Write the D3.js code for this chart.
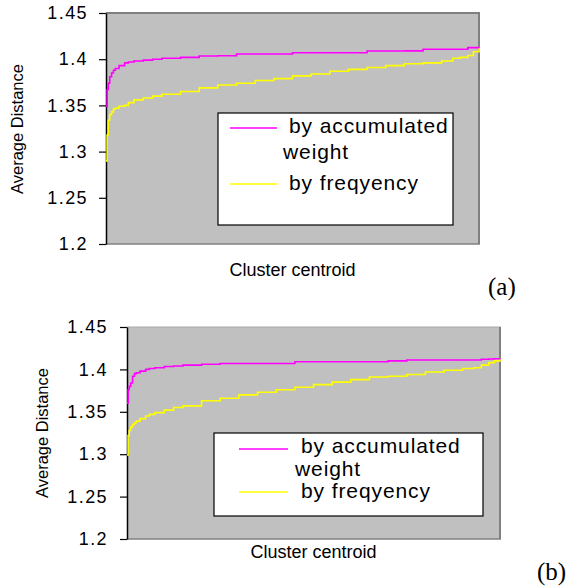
<!DOCTYPE html>
<html>
<head>
<meta charset="utf-8">
<script src="https://cdn.jsdelivr.net/npm/d3@7"></script>
<style>
  body { margin: 0; background: #fff; }
  svg { display: block; }
</style>
</head>
<body>
<div id="chart"></div>
<script>
// Rank of cluster centroid (percent of all centroids, sorted)
const ranks = [0, 0.3, 0.6, 1, 1.5, 2, 2.5, 3.5, 5, 6, 7.5, 10, 12.5, 15, 20, 25, 30, 35, 40, 45, 50, 55, 60, 65, 70, 75, 80, 85, 90, 93, 95, 97, 98.5, 100];

// Panel (a)
const weightA = [1.349, 1.367, 1.374, 1.381, 1.385, 1.388, 1.390, 1.393, 1.396, 1.397, 1.398, 1.399, 1.400, 1.401, 1.402, 1.4035, 1.4037, 1.4056, 1.4056, 1.4056, 1.407, 1.407, 1.407, 1.407, 1.4089, 1.4089, 1.409, 1.4107, 1.4107, 1.4107, 1.4107, 1.4125, 1.4125, 1.4125];
const freqA = [1.290, 1.318, 1.334, 1.340, 1.343, 1.346, 1.347, 1.349, 1.350, 1.353, 1.356, 1.358, 1.360, 1.362, 1.365, 1.369, 1.372, 1.374, 1.377, 1.379, 1.382, 1.384, 1.387, 1.389, 1.391, 1.393, 1.395, 1.396, 1.398, 1.401, 1.402, 1.404, 1.408, 1.412];

// Panel (b)
const weightB = [1.360, 1.376, 1.380, 1.384, 1.392, 1.395, 1.396, 1.398, 1.400, 1.401, 1.402, 1.4035, 1.404, 1.405, 1.406, 1.407, 1.407, 1.407, 1.407, 1.409, 1.409, 1.409, 1.409, 1.409, 1.410, 1.411, 1.411, 1.411, 1.411, 1.411, 1.412, 1.4123, 1.4125, 1.413];
const freqB = [1.299, 1.322, 1.328, 1.332, 1.335, 1.337, 1.339, 1.342, 1.345, 1.347, 1.349, 1.352, 1.355, 1.357, 1.363, 1.366, 1.370, 1.373, 1.376, 1.379, 1.382, 1.385, 1.388, 1.391, 1.392, 1.394, 1.397, 1.399, 1.401, 1.402, 1.405, 1.408, 1.410, 1.413];

const yTicks = [1.2, 1.25, 1.3, 1.35, 1.4, 1.45];
const yTickLabels = ["1.2", "1.25", "1.3", "1.35", "1.4", "1.45"];
const seriesNames = ["by accumulated", "weight", "by freqyency"];
const seriesColors = ["#ff00ff", "#ffff00"];

const svg = d3.select("#chart").append("svg")
    .attr("width", 583)
    .attr("height", 587);

function drawPanel(cfg) {
    const g = svg.append("g");
    const x = d3.scaleLinear().domain([0, 100]).range([cfg.left, cfg.right]);
    const y = d3.scaleLinear().domain([1.2, 1.45]).range([cfg.bottom, cfg.top]);

    // plot area
    g.append("rect")
        .attr("x", cfg.left).attr("y", cfg.top)
        .attr("width", cfg.right - cfg.left).attr("height", cfg.bottom - cfg.top)
        .attr("fill", "#c0c0c0");

    // top / right / bottom borders
    g.append("line")
        .attr("x1", cfg.left).attr("x2", cfg.right + 1)
        .attr("y1", cfg.top).attr("y2", cfg.top)
        .attr("stroke", cfg.topColor).attr("stroke-width", cfg.topWidth);
    g.append("line")
        .attr("x1", cfg.right).attr("x2", cfg.right)
        .attr("y1", cfg.top).attr("y2", cfg.bottom)
        .attr("stroke", "#808080").attr("stroke-width", 2);
    g.append("line")
        .attr("x1", cfg.left).attr("x2", cfg.right + 1)
        .attr("y1", cfg.bottom).attr("y2", cfg.bottom)
        .attr("stroke", "#808080").attr("stroke-width", 1.5);

    // y axis
    const axis = g.append("g")
        .attr("transform", `translate(${cfg.left},0)`)
        .call(d3.axisLeft(y)
            .tickValues(yTicks)
            .tickFormat((d, i) => yTickLabels[i])
            .tickSize(7)
            .tickSizeOuter(0)
            .tickPadding(cfg.tickPad));
    axis.select(".domain").attr("stroke", "#000").attr("stroke-width", 1.5);
    axis.selectAll(".tick line").attr("stroke", "#000").attr("stroke-width", 1.2);
    axis.selectAll(".tick text")
        .attr("fill", "#000")
        .style("font-family", "'Liberation Sans', Arial, sans-serif")
        .style("font-size", "18px")
        .style("letter-spacing", "1.4px");

    // series (drawn over the axis line, as in the original)
    const line = d3.line()
        .x((d, i) => x(ranks[i]))
        .y(d => y(d))
        .curve(d3.curveStepAfter);
    [cfg.freq, cfg.weight].forEach((vals, k) => {
        g.append("path")
            .datum(vals)
            .attr("fill", "none")
            .attr("stroke", k === 0 ? seriesColors[1] : seriesColors[0])
            .attr("stroke-width", 1.6)
            .attr("d", line);
    });

    // axis titles
    g.append("text")
        .attr("transform", `translate(${cfg.yLabelX},${cfg.yLabelY}) rotate(-90)`)
        .attr("text-anchor", "middle")
        .style("font-family", "'Liberation Sans', Arial, sans-serif")
        .style("font-size", "16.5px")
        .text("Average Distance");
    g.append("text")
        .attr("x", (cfg.left + cfg.right) / 2)
        .attr("y", cfg.xLabelY)
        .attr("text-anchor", "middle")
        .style("font-family", "'Liberation Sans', Arial, sans-serif")
        .style("font-size", "18px")
        .text("Cluster centroid");

    // legend
    const L = cfg.legend;
    g.append("rect")
        .attr("x", L.x0).attr("y", L.y0)
        .attr("width", L.x1 - L.x0).attr("height", L.y1 - L.y0)
        .attr("fill", "#fff").attr("stroke", "#000").attr("stroke-width", 1.2);
    g.append("line")
        .attr("x1", L.lx0).attr("x2", L.lx1).attr("y1", L.m).attr("y2", L.m)
        .attr("stroke", seriesColors[0]).attr("stroke-width", 1.6);
    g.append("line")
        .attr("x1", L.lx0).attr("x2", L.lx1).attr("y1", L.yl).attr("y2", L.yl)
        .attr("stroke", seriesColors[1]).attr("stroke-width", 1.6);
    const tx = [L.tx, L.tx - 6, L.tx];
    seriesNames.forEach((s, i) => {
        g.append("text")
            .attr("x", tx[i]).attr("y", L.base[i])
            .style("font-family", "'Liberation Sans', Arial, sans-serif")
            .style("font-size", "21px")
            .style("letter-spacing", "0.9px")
            .text(s);
    });

    // panel tag
    g.append("text")
        .attr("x", cfg.tagX).attr("y", cfg.tagY)
        .style("font-family", "'Liberation Serif', 'Times New Roman', serif")
        .style("font-size", "25px")
        .text(cfg.tag);
}

drawPanel({
    left: 106, right: 479, top: 13, bottom: 244,
    topColor: "#808080", topWidth: 2, tickPad: 11,
    weight: weightA, freq: freqA,
    yLabelX: 23, yLabelY: 129, xLabelY: 276,
    legend: { x0: 218, y0: 113, x1: 453, y1: 225, lx0: 230, lx1: 277, m: 128, yl: 184, tx: 289, base: [133, 159, 190] },
    tag: "(a)", tagX: 488, tagY: 295
});

drawPanel({
    left: 127, right: 500, top: 327, bottom: 539,
    topColor: "#a8a8a8", topWidth: 1, tickPad: 12,
    weight: weightB, freq: freqB,
    yLabelX: 48, yLabelY: 433, xLabelY: 558,
    legend: { x0: 214, y0: 433, x1: 483, y1: 516, lx0: 239, lx1: 288, m: 449, yl: 492, tx: 301, base: [453, 476, 498] },
    tag: "(b)", tagX: 537, tagY: 580
});
</script>
</body>
</html>
